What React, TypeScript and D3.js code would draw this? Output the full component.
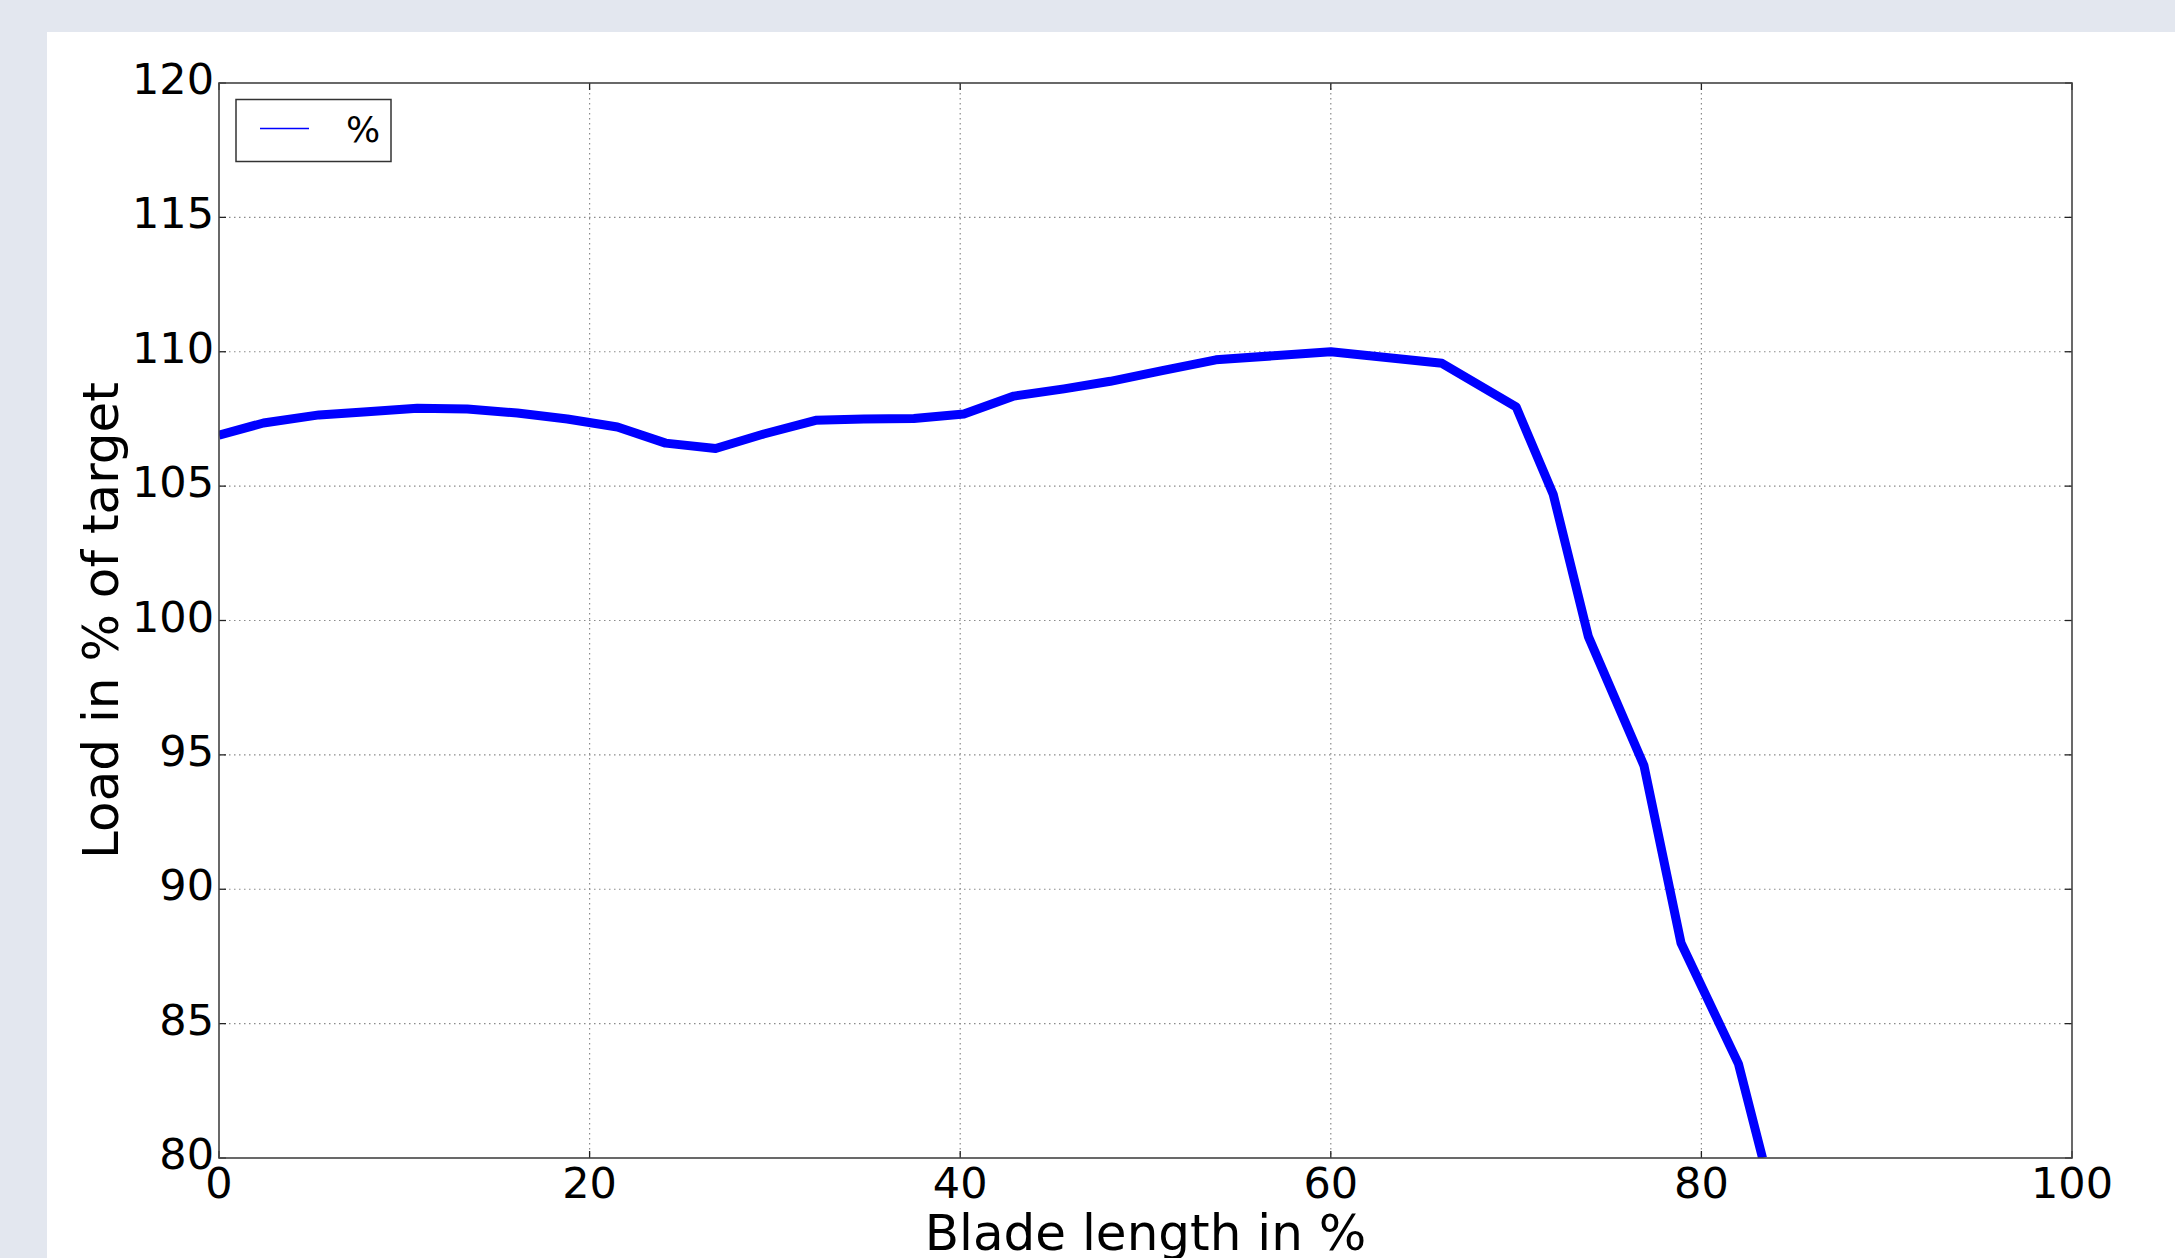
import React, { useRef, useEffect } from 'react';
import * as d3 from 'd3';

// values
const bladeLength = [0, 2.4, 5.4, 8.0, 10.7, 13.4, 16.1, 18.8, 21.5, 24.1, 26.8, 29.4, 32.2, 34.8, 37.5, 40.2, 42.9, 45.6, 48.1, 50.9, 53.8, 60.0, 66.0, 70.0, 72.0, 73.9, 76.9, 78.9, 82.0, 83.3];
const load = [106.9, 107.35, 107.65, 107.77, 107.9, 107.87, 107.72, 107.5, 107.2, 106.6, 106.4, 106.94, 107.45, 107.5, 107.52, 107.68, 108.35, 108.62, 108.9, 109.3, 109.7, 110.0, 109.57, 107.95, 104.7, 99.4, 94.6, 88.0, 83.5, 80.0];
const xTicks = [0, 20, 40, 60, 80, 100];
const yTicks = [80, 85, 90, 95, 100, 105, 110, 115, 120];
const seriesName = '%';

function App() {
    const chartRef = useRef<HTMLDivElement>(null);

    useEffect(() => {
        const width = 2175;
        const height = 1258;
        const left = 219, right = 2072, top = 83, bottom = 1158;
        const font = 'DejaVu Sans, sans-serif';

        const x = d3.scaleLinear().domain([0, 100]).range([left, right]);
        const y = d3.scaleLinear().domain([80, 120]).range([bottom, top]);

        const svg = d3.select(chartRef.current)
            .append('svg')
            .attr('width', width)
            .attr('height', height)
            .style('display', 'block');

        svg.append('rect').attr('width', width).attr('height', height).attr('fill', '#e3e7ef');
        svg.append('rect').attr('x', 47).attr('y', 32).attr('width', width - 47).attr('height', height - 32).attr('fill', '#fff');

        svg.append('clipPath').attr('id', 'plot-clip')
            .append('rect')
            .attr('x', left).attr('y', top)
            .attr('width', right - left).attr('height', bottom - top);

        // grid
        svg.selectAll('.vgrid')
            .data(xTicks.filter((d) => d > 0 && d < 100))
            .enter().append('line')
            .attr('x1', (d) => x(d)).attr('x2', (d) => x(d))
            .attr('y1', top).attr('y2', bottom)
            .attr('stroke', '#8a8a8a').attr('stroke-width', 1.2)
            .attr('stroke-dasharray', '1.5 3.5');

        svg.selectAll('.hgrid')
            .data(yTicks.filter((d) => d > 80 && d < 120))
            .enter().append('line')
            .attr('y1', (d) => y(d)).attr('y2', (d) => y(d))
            .attr('x1', left).attr('x2', right)
            .attr('stroke', '#8a8a8a').attr('stroke-width', 1.2)
            .attr('stroke-dasharray', '1.5 3.5');

        // data line
        const line = d3.line<number>()
            .x((d, i) => x(bladeLength[i]))
            .y((d) => y(d));

        svg.append('path')
            .datum(load)
            .attr('d', line)
            .attr('clip-path', 'url(#plot-clip)')
            .attr('fill', 'none')
            .attr('stroke', '#0000ff')
            .attr('stroke-width', 9)
            .attr('stroke-linejoin', 'round');

        // inward ticks on all four sides
        const tickLen = 7;
        xTicks.forEach((d) => {
            svg.append('line').attr('x1', x(d)).attr('x2', x(d)).attr('y1', bottom).attr('y2', bottom - tickLen)
                .attr('stroke', '#222').attr('stroke-width', 1.3);
            svg.append('line').attr('x1', x(d)).attr('x2', x(d)).attr('y1', top).attr('y2', top + tickLen)
                .attr('stroke', '#222').attr('stroke-width', 1.3);
        });
        yTicks.forEach((d) => {
            svg.append('line').attr('y1', y(d)).attr('y2', y(d)).attr('x1', left).attr('x2', left + tickLen)
                .attr('stroke', '#222').attr('stroke-width', 1.3);
            svg.append('line').attr('y1', y(d)).attr('y2', y(d)).attr('x1', right).attr('x2', right - tickLen)
                .attr('stroke', '#222').attr('stroke-width', 1.3);
        });

        // frame
        svg.append('rect')
            .attr('x', left).attr('y', top)
            .attr('width', right - left).attr('height', bottom - top)
            .attr('fill', 'none').attr('stroke', '#444').attr('stroke-width', 1.6);

        // tick labels
        svg.selectAll('.xlabel')
            .data(xTicks)
            .enter().append('text')
            .attr('x', (d) => x(d))
            .attr('y', bottom + 40)
            .attr('text-anchor', 'middle')
            .attr('font-family', font)
            .attr('font-size', 43)
            .attr('fill', '#000')
            .text((d) => d);

        svg.selectAll('.ylabel')
            .data(yTicks)
            .enter().append('text')
            .attr('x', left - 5)
            .attr('y', (d) => y(d) + 11)
            .attr('text-anchor', 'end')
            .attr('font-family', font)
            .attr('font-size', 43)
            .attr('fill', '#000')
            .text((d) => d);

        // axis titles
        svg.append('text')
            .attr('x', (left + right) / 2)
            .attr('y', 1250)
            .attr('text-anchor', 'middle')
            .attr('font-family', font)
            .attr('font-size', 50)
            .text('Blade length in %');

        svg.append('text')
            .attr('transform', `translate(118, ${(top + bottom) / 2}) rotate(-90)`)
            .attr('text-anchor', 'middle')
            .attr('font-family', font)
            .attr('font-size', 50)
            .text('Load in % of target');

        // legend
        const legend = svg.append('g');
        legend.append('rect')
            .attr('x', 236).attr('y', 99.5)
            .attr('width', 155).attr('height', 62)
            .attr('fill', '#fff').attr('stroke', '#333').attr('stroke-width', 1.5);
        legend.append('line')
            .attr('x1', 260).attr('x2', 309).attr('y1', 128.5).attr('y2', 128.5)
            .attr('stroke', '#0000ff').attr('stroke-width', 1.5);
        legend.append('text')
            .attr('x', 346).attr('y', 141.5)
            .attr('font-family', font)
            .attr('font-size', 36)
            .text(seriesName);

        return () => {
            svg.remove();
        };
    }, []);

    return (
        <div ref={chartRef}
            style={{ position: 'absolute', left: 0, top: 0 }}>
        </div>
    );
}

export default App;
